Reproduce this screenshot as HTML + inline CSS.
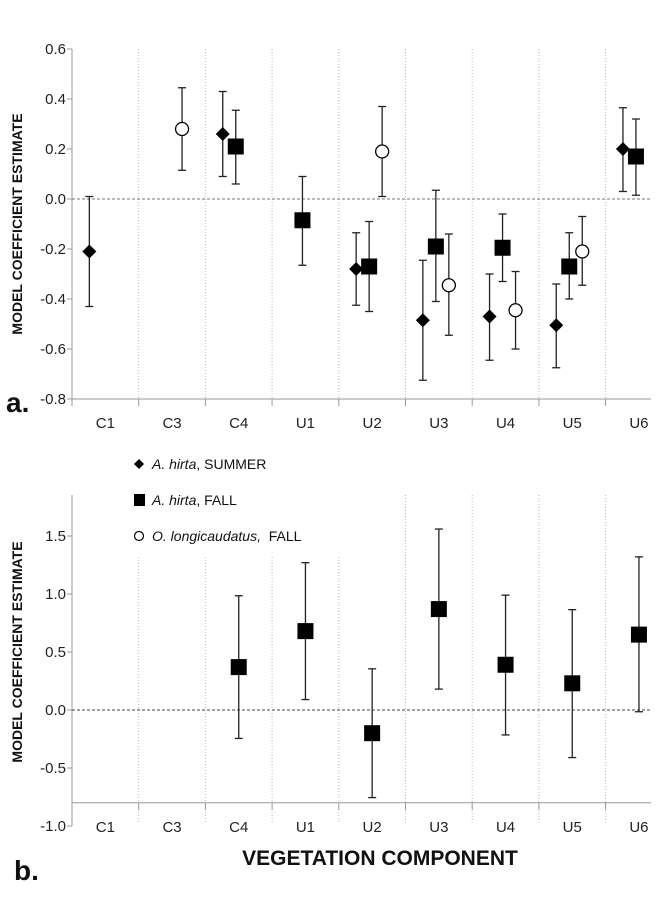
<!DOCTYPE html>
<html><head><meta charset="utf-8"><style>
body{margin:0;background:#fff;}
svg{display:block;font-family:"Liberation Sans",sans-serif;}
</style></head><body>
<svg id="chart" width="672" height="900" xmlns="http://www.w3.org/2000/svg"></svg>
<script>
const categories=["C1","C3","C4","U1","U2","U3","U4","U5","U6"];
// Panel a
const aSummerCats=["C1","C4","U2","U3","U4","U5","U6"];
const aSummerVal=[-0.21,0.26,-0.28,-0.485,-0.47,-0.505,0.20];
const aSummerLo=[-0.43,0.09,-0.425,-0.725,-0.645,-0.675,0.03];
const aSummerHi=[0.01,0.43,-0.135,-0.245,-0.30,-0.34,0.365];
const aFallCats=["C4","U1","U2","U3","U4","U5","U6"];
const aFallVal=[0.21,-0.085,-0.27,-0.19,-0.195,-0.27,0.17];
const aFallLo=[0.06,-0.265,-0.45,-0.41,-0.33,-0.40,0.015];
const aFallHi=[0.355,0.09,-0.09,0.035,-0.06,-0.135,0.32];
const aOCats=["C3","U2","U3","U4","U5"];
const aOVal=[0.28,0.19,-0.345,-0.445,-0.21];
const aOLo=[0.115,0.01,-0.545,-0.60,-0.345];
const aOHi=[0.445,0.37,-0.14,-0.29,-0.07];
const aTicks=[0.6,0.4,0.2,0.0,-0.2,-0.4,-0.6,-0.8];
// Panel b
const bFallCats=["C4","U1","U2","U3","U4","U5","U6"];
const bFallVal=[0.37,0.68,-0.2,0.87,0.39,0.23,0.65];
const bFallLo=[-0.245,0.09,-0.755,0.18,-0.215,-0.41,-0.015];
const bFallHi=[0.985,1.27,0.355,1.56,0.99,0.865,1.32];
const bTicks=[1.5,1.0,0.5,0.0,-0.5,-1.0];

const svg=document.getElementById('chart');
const NS="http://www.w3.org/2000/svg";
function mk(tag,attrs,name,parent){const e=document.createElementNS(NS,tag);for(const k in attrs)e.setAttribute(k,attrs[k]);


(parent||svg).appendChild(e);return e;}
function txt(x,y,s,attrs,name){const t=mk('text',Object.assign({x:x,y:y},attrs),name);t.textContent=s;return t;}

const X0=72,CW=66.7,XEND=651;
const xC=c=>X0+CW*(categories.indexOf(c)+0.5);
const yA=v=>199-v*250;
const yB=v=>710-v*116;

function marker(type,x,y,name){
  if(type==='d')mk('polygon',{points:`${x},${y-7} ${x+7},${y} ${x},${y+7} ${x-7},${y}`,fill:'#000'},name);
  else if(type==='s')mk('rect',{x:x-8,y:y-8,width:16,height:16,fill:'#000'},name);
  else mk('circle',{cx:x,cy:y,r:6.5,fill:'#fff',stroke:'#000','stroke-width':1.3},name);
}
function series(cats,vals,lo,hi,off,type,yf,name){
  cats.forEach((c,i)=>{const x=xC(c)+off;
    mk('line',{x1:x,x2:x,y1:yf(hi[i]),y2:yf(lo[i]),stroke:'#222','stroke-width':1.3},name+'-error-'+c);
    mk('line',{x1:x-4,x2:x+4,y1:yf(hi[i]),y2:yf(hi[i]),stroke:'#222','stroke-width':1.3},name+'-cap-'+c);
    mk('line',{x1:x-4,x2:x+4,y1:yf(lo[i]),y2:yf(lo[i]),stroke:'#222','stroke-width':1.3},name+'-cap-'+c);
    marker(type,x,yf(vals[i]),name+'-point-'+c);});
}

// ---- Panel a ----
const aTop=yA(0.6),aBot=yA(-0.8);
for(let i=1;i<9;i++){const x=X0+CW*i;mk('line',{x1:x,x2:x,y1:aTop,y2:aBot,stroke:'#bbb','stroke-dasharray':'1,2'},'a-gridline');
  mk('line',{x1:x,x2:x,y1:aBot,y2:aBot+7,stroke:'#999'},'a-x-tick');}
mk('line',{x1:X0,x2:X0,y1:aTop,y2:aBot+7,stroke:'#999'},'a-y-axis');
mk('line',{x1:X0,x2:XEND,y1:aBot,y2:aBot,stroke:'#999'},'a-x-axis');
mk('line',{x1:X0,x2:XEND,y1:yA(0),y2:yA(0),stroke:'#777','stroke-dasharray':'3,2'},'a-zero-line');
aTicks.forEach(v=>{mk('line',{x1:X0-5,x2:X0,y1:yA(v),y2:yA(v),stroke:'#999'},'a-y-tick');
  txt(66,yA(v)+5,v.toFixed(1),{'text-anchor':'end','font-size':15,fill:'#222'},'a-y-tick-label');});
categories.forEach(c=>txt(xC(c)>640?634:xC(c),428,c,{'text-anchor':'middle','font-size':15,fill:'#222'},'a-x-label-'+c));
txt(0,0,'MODEL COEFFICIENT ESTIMATE',{transform:'translate(22,224) rotate(-90)','text-anchor':'middle','font-size':14,'font-weight':'bold',fill:'#111'},'a-y-axis-title');
txt(6,412,'a.',{'font-size':28,'font-weight':'bold',fill:'#111'},'panel-a-label');
series(aSummerCats,aSummerVal,aSummerLo,aSummerHi,-16,'d',yA,'a-summer');
series(aFallCats,aFallVal,aFallLo,aFallHi,-3,'s',yA,'a-fall');
series(aOCats,aOVal,aOLo,aOHi,10,'c',yA,'a-olong');

// ---- Panel b ----
const bBot=yB(-0.8);
for(let i=1;i<9;i++){const x=X0+CW*i;mk('line',{x1:x,x2:x,y1:i>=5?495:557,y2:bBot+20,stroke:'#bbb','stroke-dasharray':'1,2'},'b-gridline');
  mk('line',{x1:x,x2:x,y1:bBot,y2:bBot+7,stroke:'#999'},'b-x-tick');}
mk('line',{x1:X0,x2:X0,y1:495,y2:yB(-1.0),stroke:'#999'},'b-y-axis');
mk('line',{x1:X0,x2:XEND,y1:bBot,y2:bBot,stroke:'#999'},'b-x-axis');
mk('line',{x1:X0,x2:XEND,y1:yB(0),y2:yB(0),stroke:'#444','stroke-dasharray':'3,2'},'b-zero-line');
bTicks.forEach(v=>{mk('line',{x1:X0-5,x2:X0,y1:yB(v),y2:yB(v),stroke:'#999'},'b-y-tick');
  txt(66,yB(v)+5,v.toFixed(1),{'text-anchor':'end','font-size':15,fill:'#222'},'b-y-tick-label');});
categories.forEach(c=>txt(xC(c)>640?634:xC(c),832,c,{'text-anchor':'middle','font-size':15,fill:'#222'},'b-x-label-'+c));
txt(0,0,'MODEL COEFFICIENT ESTIMATE',{transform:'translate(22,652) rotate(-90)','text-anchor':'middle','font-size':14,'font-weight':'bold',fill:'#111'},'b-y-axis-title');
txt(380,865,'VEGETATION COMPONENT',{'text-anchor':'middle','font-size':21,'font-weight':'bold',fill:'#111'},'x-axis-title');
txt(14,880,'b.',{'font-size':28,'font-weight':'bold',fill:'#111'},'panel-b-label');
series(bFallCats,bFallVal,bFallLo,bFallHi,0,'s',yB,'b-fall');

// Legend
const lg=[['d','A. hirta',', SUMMER',464],['s','A. hirta',', FALL',500],['c','O. longicaudatus,','  FALL',536]];
lg.forEach(l=>{
  if(l[0]==='d')mk('polygon',{points:`139,${l[3]-5} 144,${l[3]} 139,${l[3]+5} 134,${l[3]}`,fill:'#000'},'legend-marker');
  else if(l[0]==='s')mk('rect',{x:134,y:l[3]-6,width:11,height:12,fill:'#000'},'legend-marker');
  else mk('circle',{cx:139,cy:l[3],r:4.5,fill:'#fff',stroke:'#000','stroke-width':1.2},'legend-marker');
  const t=mk('text',{x:152,y:l[3]+5,'font-size':14,fill:'#111','xml:space':'preserve'},'legend-entry');
  const s1=document.createElementNS(NS,'tspan');s1.setAttribute('font-style','italic');s1.textContent=l[1];t.appendChild(s1);
  const s2=document.createElementNS(NS,'tspan');s2.textContent=l[2].replace('  ','\u00a0\u00a0');t.appendChild(s2);
});
</script>
</body></html>
